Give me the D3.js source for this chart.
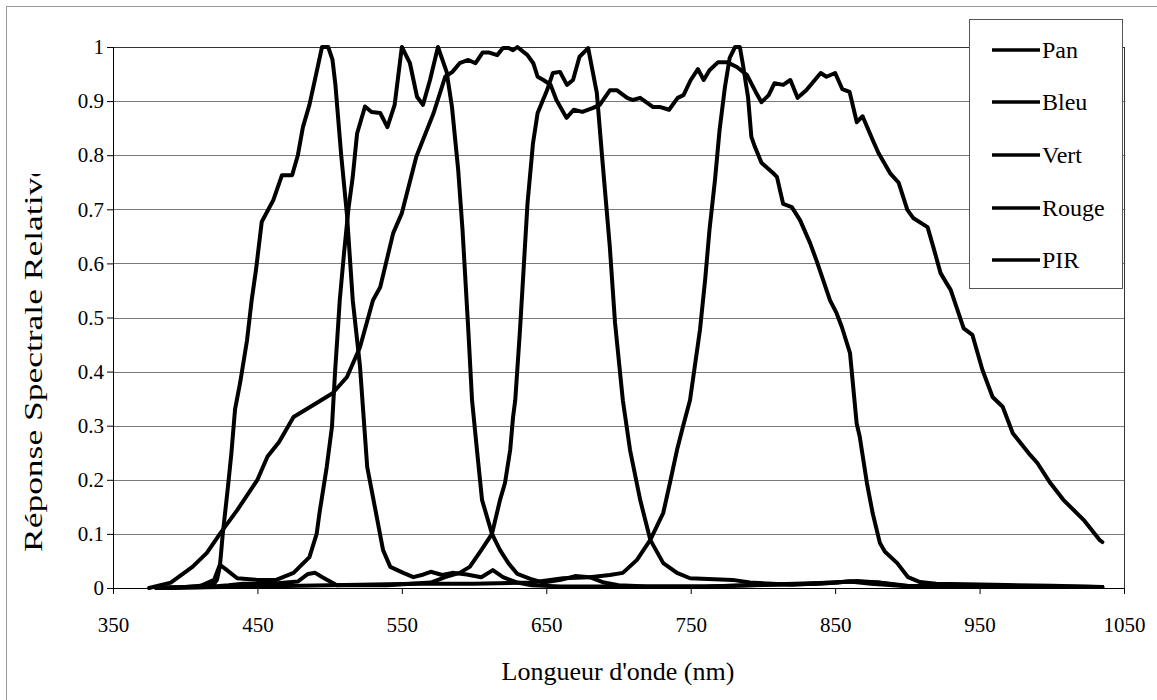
<!DOCTYPE html>
<html>
<head>
<meta charset="utf-8">
<script src="https://cdn.jsdelivr.net/npm/d3@7"></script>
<style>
  html, body { margin: 0; padding: 0; background: #fff; }
  svg { display: block; }
  svg text { font-family: "Liberation Serif", "Times New Roman", Times, "Nimbus Roman", "DejaVu Serif", "Noto Serif", serif; }
</style>
</head>
<body>
<svg id="chart" width="1157" height="700"></svg>
<script>
// ---------------- DATA ----------------
const seriesNames = ["Pan", "Bleu", "Vert", "Rouge", "PIR"];
const xTicks = [350, 450, 550, 650, 750, 850, 950, 1050];
const yTicks = [0, 0.1, 0.2, 0.3, 0.4, 0.5, 0.6, 0.7, 0.8, 0.9, 1];
const yTickLabels = ["0", "0.1", "0.2", "0.3", "0.4", "0.5", "0.6", "0.7", "0.8", "0.9", "1"];

const panNm  = [375, 390, 405, 415, 424, 436, 450, 457, 465, 475, 491, 502, 512, 521, 530, 535, 544, 550, 560, 572, 580, 585, 590, 596, 601, 606, 610, 616, 620, 624, 627, 630, 637, 641, 644, 648, 653, 657, 664, 669, 675, 682, 687, 694, 699, 706, 710, 715, 724, 729, 735, 741, 745, 750, 755, 759, 763, 769, 775, 782, 789, 795, 799, 804, 808, 814, 819, 824, 830, 840, 844, 850, 855, 860, 865, 869, 876, 880, 888, 894, 900, 904, 914, 918, 923, 927, 930, 939, 945, 952, 959, 966, 973, 985, 990, 999, 1008, 1022, 1033, 1035];
const panVal = [0, 0.01, 0.039, 0.065, 0.1, 0.144, 0.2, 0.243, 0.27, 0.316, 0.342, 0.36, 0.39, 0.445, 0.532, 0.556, 0.656, 0.693, 0.797, 0.878, 0.945, 0.954, 0.97, 0.976, 0.97, 0.99, 0.99, 0.985, 0.998, 0.998, 0.994, 1.0, 0.985, 0.97, 0.945, 0.939, 0.93, 0.902, 0.869, 0.884, 0.88, 0.887, 0.893, 0.92, 0.92, 0.906, 0.902, 0.906, 0.889, 0.889, 0.884, 0.906, 0.911, 0.939, 0.959, 0.939, 0.957, 0.972, 0.972, 0.963, 0.948, 0.917, 0.898, 0.911, 0.933, 0.93, 0.939, 0.906, 0.92, 0.952, 0.945, 0.952, 0.922, 0.917, 0.861, 0.872, 0.828, 0.804, 0.767, 0.749, 0.699, 0.684, 0.667, 0.63, 0.582, 0.564, 0.551, 0.48, 0.468, 0.403, 0.353, 0.335, 0.286, 0.246, 0.231, 0.194, 0.163, 0.126, 0.089, 0.085];

const bleuNm  = [380, 400, 415, 420, 422, 424, 426, 429.6, 432, 434.5, 438, 442.8, 446, 449, 453, 461, 467, 474, 478, 481.5, 486, 491, 494.7, 499, 502, 504, 508, 512, 516, 521, 526, 530, 537, 542, 551, 558, 565, 570, 578, 585, 595, 605, 613, 620, 630, 640, 660, 700, 760, 840, 860, 875, 900, 1035];
const bleuVal = [0, 0.002, 0.005, 0.008, 0.015, 0.04, 0.1, 0.187, 0.25, 0.33, 0.379, 0.458, 0.532, 0.588, 0.677, 0.717, 0.763, 0.763, 0.8, 0.852, 0.893, 0.954, 1.0, 1.0, 0.976, 0.93, 0.8, 0.69, 0.532, 0.41, 0.224, 0.168, 0.07, 0.039, 0.028, 0.02, 0.025, 0.03, 0.024, 0.028, 0.025, 0.02, 0.033, 0.02, 0.01, 0.005, 0.003, 0.003, 0.003, 0.008, 0.012, 0.008, 0.003, 0.002];

const vertNm  = [380, 410, 420, 424, 428, 436, 450, 463, 475, 486, 491, 493, 498, 501.6, 503.7, 505.8, 507, 510, 513, 516, 519, 524.5, 529, 535, 540, 545, 550, 555.6, 560.5, 564.6, 569.5, 575, 581, 584.7, 589, 592, 596, 598.6, 602, 605.5, 612.4, 618, 624, 630, 639, 648, 660, 670, 680, 690, 700, 720, 760, 850, 865, 880, 900, 1035];
const vertVal = [0, 0.003, 0.015, 0.043, 0.035, 0.018, 0.015, 0.015, 0.028, 0.057, 0.1, 0.139, 0.224, 0.298, 0.397, 0.482, 0.532, 0.62, 0.7, 0.76, 0.84, 0.89, 0.88, 0.878, 0.852, 0.893, 1.0, 0.97, 0.908, 0.893, 0.939, 1.0, 0.954, 0.889, 0.773, 0.662, 0.477, 0.347, 0.255, 0.163, 0.1, 0.07, 0.045, 0.026, 0.017, 0.01, 0.015, 0.022, 0.02, 0.01, 0.005, 0.003, 0.003, 0.01, 0.013, 0.01, 0.003, 0.002];

const rougeNm  = [380, 415, 430, 440, 460, 478, 485, 490, 495, 505, 540, 570, 580, 590, 597, 605, 612.4, 618, 621.4, 625, 627, 628.5, 631.8, 637, 640.8, 644, 650.5, 654.6, 659.5, 664.3, 668.5, 673, 679, 685, 689, 694, 697.6, 703, 708, 715, 722, 731, 740.5, 749.5, 779, 791, 820, 860, 880, 900, 1035];
const rougeVal = [0, 0.002, 0.005, 0.008, 0.008, 0.012, 0.026, 0.028, 0.02, 0.005, 0.005, 0.01, 0.02, 0.028, 0.039, 0.07, 0.1, 0.163, 0.194, 0.255, 0.316, 0.347, 0.477, 0.711, 0.822, 0.878, 0.92, 0.952, 0.954, 0.93, 0.939, 0.982, 0.998, 0.915, 0.786, 0.63, 0.49, 0.347, 0.255, 0.163, 0.089, 0.046, 0.028, 0.018, 0.015, 0.01, 0.006, 0.012, 0.01, 0.004, 0.002];

const pirNm  = [380, 450, 500, 560, 600, 640, 661.6, 680, 694, 703, 712.8, 722, 731, 735.6, 740.5, 744.6, 749.5, 756.4, 760, 763, 766.8, 770, 773.7, 777, 780.7, 784, 786, 789.7, 792, 794.5, 799, 807, 809.7, 814, 820, 825.7, 832.6, 837, 841.6, 846.4, 851, 854.7, 860.3, 864.9, 867, 872, 876, 881, 884.5, 893, 900.5, 908.7, 920, 960, 1000, 1035];
const pirVal = [0, 0.003, 0.005, 0.008, 0.008, 0.01, 0.018, 0.02, 0.024, 0.028, 0.052, 0.089, 0.139, 0.194, 0.255, 0.298, 0.347, 0.477, 0.57, 0.662, 0.754, 0.847, 0.926, 0.98, 1.0, 1.0, 0.97, 0.907, 0.834, 0.815, 0.786, 0.767, 0.76, 0.71, 0.704, 0.68, 0.638, 0.606, 0.57, 0.532, 0.508, 0.482, 0.434, 0.304, 0.28, 0.194, 0.138, 0.083, 0.067, 0.046, 0.02, 0.011, 0.008, 0.006, 0.004, 0.002];

const xTitle = "Longueur d'onde (nm)";
const yTitle = "Réponse Spectrale Relative";

// ---------------- DRAW ----------------
const FONT = '"Liberation Serif", "Times New Roman", Times, "Nimbus Roman", "DejaVu Serif", "Noto Serif", serif';
const svg = d3.select("#chart");
const L = 113, R = 1124, T = 47, B = 588;
const x = d3.scaleLinear().domain([350, 1050]).range([L, R]);
const y = d3.scaleLinear().domain([0, 1]).range([B, T]);

// outer border
svg.append("rect").attr("x", 6.5).attr("y", 6.5).attr("width", 1160).attr("height", 700)
  .attr("fill", "none").attr("stroke", "#9a9a9a").attr("stroke-width", 1);

// gridlines
svg.append("g").selectAll("line").data(yTicks.filter(d => d > 0)).join("line")
  .attr("x1", L).attr("x2", R)
  .attr("y1", d => Math.round(y(d)) + 0.5).attr("y2", d => Math.round(y(d)) + 0.5)
  .attr("stroke", "#7a7a7a").attr("stroke-width", 1);

// plot frame (top/right)
svg.append("rect").attr("x", L + 0.5).attr("y", T + 0.5).attr("width", R - L).attr("height", B - T)
  .attr("fill", "none").attr("stroke", "#333").attr("stroke-width", 1);

// axes
const xAxis = d3.axisBottom(x).tickValues(xTicks).tickSize(6).tickPadding(23).tickFormat(d3.format("d"));
const gx = svg.append("g").attr("transform", `translate(0,${B})`).call(xAxis);
gx.attr("font-family", FONT).attr("font-size", 21);
gx.select(".domain").attr("stroke", "#000");
gx.selectAll(".tick line").attr("stroke", "#000");
gx.selectAll("text").attr("font-size", 21).attr("fill", "#000").style("font-family", FONT);

const yAxis = d3.axisLeft(y).tickValues(yTicks).tickSize(6).tickPadding(3)
  .tickFormat((d, i) => yTickLabels[i]);
const gy = svg.append("g").attr("transform", `translate(${L},0)`).call(yAxis);
gy.attr("font-family", FONT).attr("font-size", 21);
gy.select(".domain").attr("stroke", "#000");
gy.selectAll(".tick line").attr("stroke", "#000");
gy.selectAll("text").attr("font-size", 21).attr("fill", "#000").style("font-family", FONT);

// curves
const seriesData = [
  [panNm, panVal], [bleuNm, bleuVal], [vertNm, vertVal], [rougeNm, rougeVal], [pirNm, pirVal]
].map(([nm, v]) => nm.map((w, i) => ({ w, v: v[i] })));

const line = d3.line().x(d => x(d.w)).y(d => y(d.v));
svg.append("g").selectAll("path").data(seriesData).join("path")
  .attr("d", line).attr("fill", "none").attr("stroke", "#000")
  .attr("stroke-width", 4).attr("stroke-linejoin", "round").attr("stroke-linecap", "round");

// legend
const lg = svg.append("g");
lg.append("rect").attr("x", 969.5).attr("y", 19.5).attr("width", 153).attr("height", 269)
  .attr("fill", "#fff").attr("stroke", "#555").attr("stroke-width", 1);
const legY = [50, 102, 155, 208, 260];
seriesNames.forEach((n, i) => {
  lg.append("line").attr("x1", 992).attr("x2", 1040).attr("y1", legY[i]).attr("y2", legY[i])
    .attr("stroke", "#000").attr("stroke-width", 3.5);
  lg.append("text").attr("x", 1042).attr("y", legY[i] + 8).attr("font-size", 24)
    .style("font-family", FONT).text(n);
});

// titles
svg.append("text").attr("x", 618).attr("y", 680).attr("text-anchor", "middle")
  .attr("font-size", 26).style("font-family", FONT).text(xTitle);

svg.append("defs").append("clipPath").attr("id", "yclip")
  .append("rect").attr("x", 0).attr("y", 174).attr("width", 100).attr("height", 500);
svg.append("g").attr("clip-path", "url(#yclip)")
  .append("text").attr("transform", "translate(42,552) rotate(-90)")
  .attr("font-size", 25).attr("textLength", 390).attr("lengthAdjust", "spacingAndGlyphs")
  .style("font-family", FONT).text(yTitle);
</script>
</body>
</html>
